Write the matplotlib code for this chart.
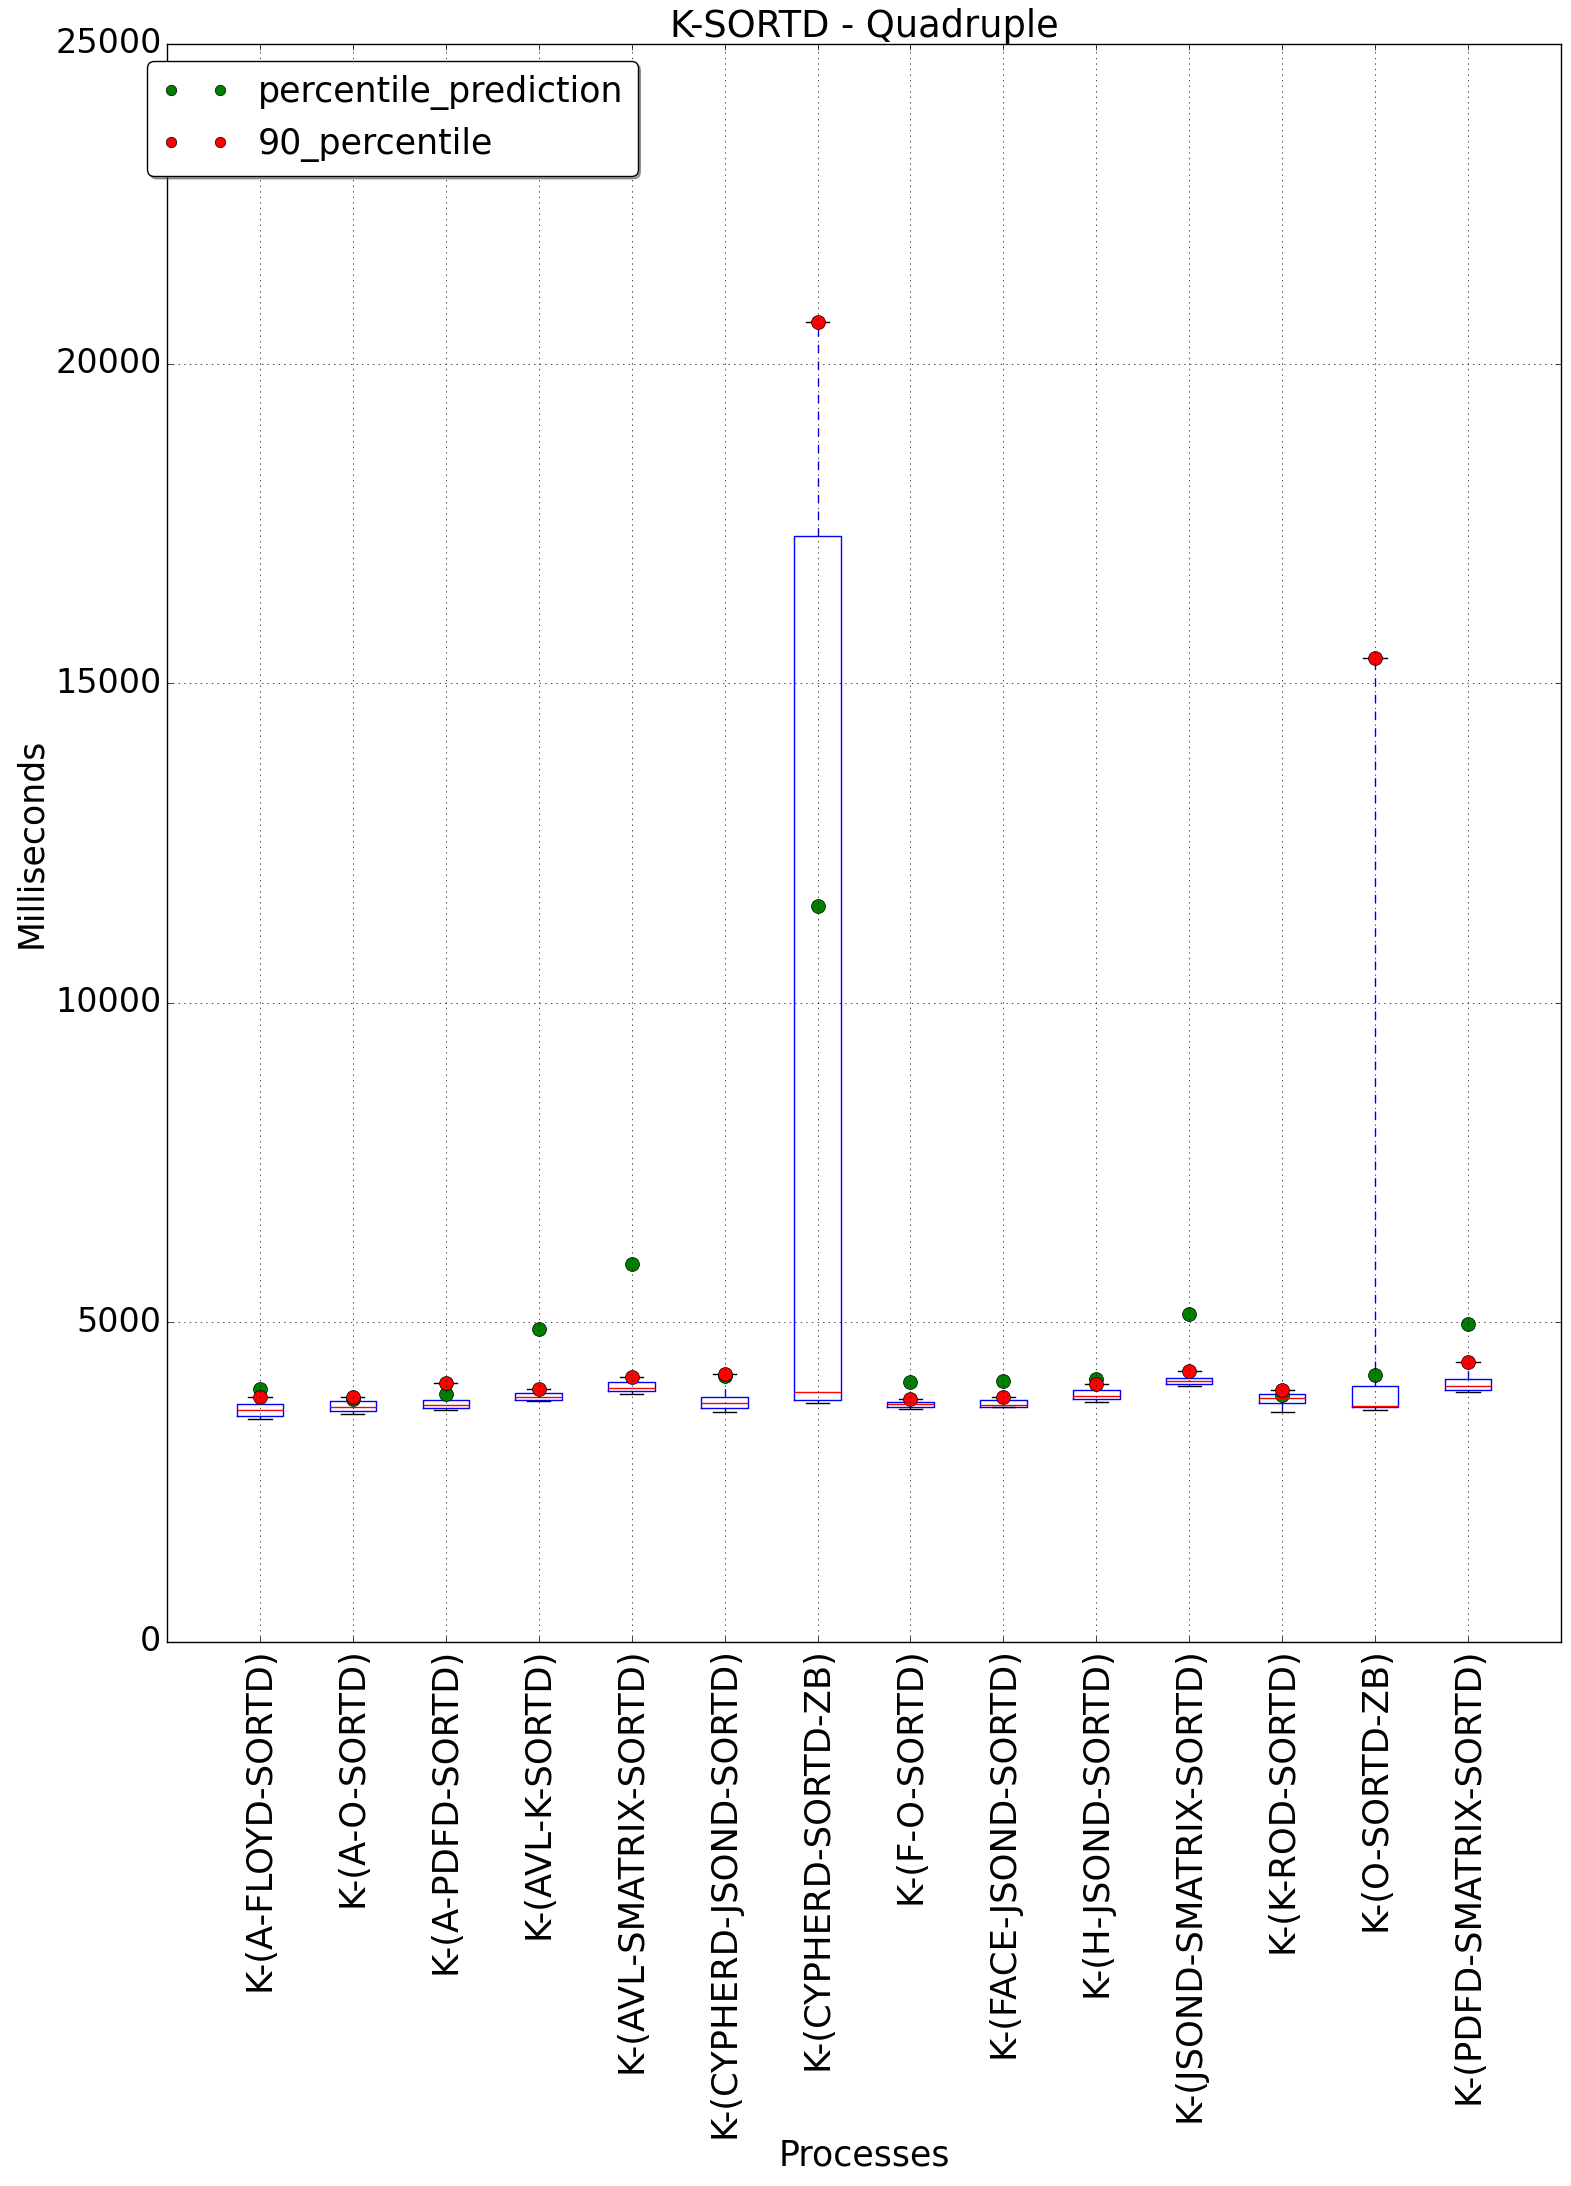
import numpy as np
import matplotlib
matplotlib.use('Agg')
import matplotlib.pyplot as plt

plt.style.use('classic')
plt.rcParams['font.family'] = ['DejaVu Sans']
plt.rcParams['font.size'] = 24
plt.rcParams['figure.facecolor'] = 'white'
plt.rcParams['savefig.facecolor'] = 'white'

# Process names (x tick labels)
labels = ['K-(A-FLOYD-SORTD)', 'K-(A-O-SORTD)', 'K-(A-PDFD-SORTD)', 'K-(AVL-K-SORTD)',
          'K-(AVL-SMATRIX-SORTD)', 'K-(CYPHERD-JSOND-SORTD)', 'K-(CYPHERD-SORTD-ZB)',
          'K-(F-O-SORTD)', 'K-(FACE-JSOND-SORTD)', 'K-(H-JSOND-SORTD)',
          'K-(JSOND-SMATRIX-SORTD)', 'K-(K-ROD-SORTD)', 'K-(O-SORTD-ZB)',
          'K-(PDFD-SMATRIX-SORTD)']

# Box statistics (ms)
whis_lo = [3487, 3560, 3623, 3764, 3873, 3591, 3732, 3639, 3670, 3748, 3998, 3591, 3623, 3904]
q1      = [3528, 3607, 3654, 3779, 3920, 3654, 3784, 3670, 3679, 3795, 4029, 3732, 3670, 3935]
median  = [3627, 3670, 3701, 3826, 3967, 3732, 3904, 3716, 3711, 3851, 4076, 3810, 3695, 3998]
q3      = [3716, 3768, 3784, 3888, 4065, 3826, 17308, 3748, 3779, 3935, 4123, 3877, 3998, 4107]
# 90th percentile (also the upper whisker)
p90     = [3831, 3826, 4049, 3951, 4140, 4190, 20653, 3795, 3826, 4029, 4242, 3940, 15400, 4378]
# predicted percentile
pred    = [3951, 3795, 3873, 4889, 5905, 4165, 11507, 4065, 4080, 4117, 5123, 3862, 4170, 4972]

stats = []
for i in range(len(labels)):
    stats.append({'whislo': whis_lo[i], 'q1': q1[i], 'med': median[i],
                  'q3': q3[i], 'whishi': p90[i], 'fliers': []})

fig = plt.figure(figsize=(15.71, 21.86), dpi=100)
ax = fig.add_subplot(111)
fig.subplots_adjust(left=0.1063, right=0.9936, bottom=0.2489, top=0.9799)

pos = np.arange(1, len(labels) + 1)
ax.bxp(stats, positions=pos, widths=0.5, showfliers=False)

ax.plot(pos, pred, 'o', color='green', markersize=10, label='percentile_prediction')
ax.plot(pos, p90, 'o', color='red', markersize=10, label='90_percentile')

ax.set_xlim(0, 15)
ax.set_ylim(0, 25000)
ax.set_yticks(np.arange(0, 25001, 5000))
ax.set_xticks(pos)
ax.set_xticklabels(labels, rotation=90, fontsize=25.5)
ax.grid(True)

ax.set_title('K-SORTD - Quadruple', fontsize=26.5)
ax.set_xlabel('Processes', fontsize=25, labelpad=0)
ax.set_ylabel('Milliseconds', fontsize=25)

ax.legend(loc='upper left', bbox_to_anchor=(-0.0143, 0.9894), borderaxespad=0,
          numpoints=2, fancybox=True, shadow=True, markerscale=0.75, fontsize=25)

plt.savefig('out.png', dpi=100)
